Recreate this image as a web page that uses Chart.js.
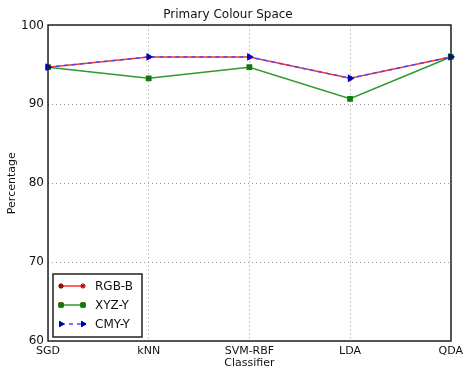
<!DOCTYPE html>
<html>
<head>
<meta charset="utf-8">
<script src="https://cdn.jsdelivr.net/npm/chart.js@4/dist/chart.umd.min.js"></script>
<style>
  html, body { margin: 0; padding: 0; background: #fff; }
  #wrap { width: 467px; height: 371px; }
</style>
</head>
<body>
<div id="wrap"><canvas id="chart" width="467" height="371"></canvas></div>
<script>
// данные графика
const classifiers = ["SGD", "kNN", "SVM-RBF", "LDA", "QDA"];
const rgbB = [94.7, 96.0, 96.0, 93.3, 96.0];
const xyzY = [94.7, 93.3, 94.7, 90.7, 96.0];
const cmyY = [94.7, 96.0, 96.0, 93.3, 96.0];
const yTicks = [60, 70, 80, 90, 100];

const FONT = "'DejaVu Sans', sans-serif";

// рамка осей и легенда внутри области графика
const framePlugin = {
  id: "frame",
  afterDraw(chart) {
    const ctx = chart.ctx;
    const a = chart.chartArea;
    ctx.save();
    ctx.strokeStyle = "#222";
    ctx.lineWidth = 1.5;
    ctx.strokeRect(Math.round(a.left), Math.round(a.top),
      Math.round(a.right - a.left), Math.round(a.bottom - a.top));

    // легенда
    const bx = 53, by = 274, bw = 89, bh = 63;
    ctx.fillStyle = "#fff";
    ctx.fillRect(bx, by, bw, bh);
    ctx.strokeRect(bx, by, bw, bh);
    chart.data.datasets.forEach((ds, i) => {
      const y = by + 12 + i * 19;
      ctx.save();
      ctx.strokeStyle = ds.borderColor;
      ctx.lineWidth = 1.5;
      ctx.setLineDash(ds.borderDash || []);
      ctx.beginPath();
      ctx.moveTo(61, y);
      ctx.lineTo(83, y);
      ctx.stroke();
      ctx.restore();
      [61, 83].forEach((x) => {
        Chart.helpers.drawPoint(ctx, {
          pointStyle: ds.pointStyle,
          radius: ds.pointRadius,
          rotation: ds.pointRotation || 0,
          borderWidth: 1
        }, x, y);
        ctx.fillStyle = ds.pointBackgroundColor;
        ctx.strokeStyle = ds.pointBorderColor;
        ctx.lineWidth = 1;
        ctx.fill();
        ctx.stroke();
      });
      ctx.fillStyle = "#111";
      ctx.font = "12px " + FONT;
      ctx.textBaseline = "middle";
      ctx.textAlign = "left";
      ctx.fillText(ds.label, 95, y + 1);
    });
    ctx.restore();
  }
};

const ctx = document.getElementById("chart").getContext("2d");
new Chart(ctx, {
  type: "line",
  data: {
    labels: classifiers,
    datasets: [
      {
        label: "RGB-B",
        data: rgbB,
        borderColor: "#ff3030",
        backgroundColor: "#ff3030",
        borderWidth: 1.5,
        pointStyle: "star",
        pointRadius: 2.5,
        pointBackgroundColor: "#c00000",
        pointBorderColor: "#c00000",
        order: 2,
        clip: false
      },
      {
        label: "XYZ-Y",
        data: xyzY,
        borderColor: "#2e9a2e",
        backgroundColor: "#1a7f1a",
        borderWidth: 1.5,
        pointStyle: "rect",
        pointRadius: 3,
        pointBackgroundColor: "#0f7a0f",
        pointBorderColor: "#0f7a0f",
        order: 1,
        clip: false
      },
      {
        label: "CMY-Y",
        data: cmyY,
        borderColor: "#4848ff",
        backgroundColor: "#0000cc",
        borderWidth: 1.5,
        borderDash: [4, 4],
        pointStyle: "triangle",
        pointRotation: 90,
        pointRadius: 3,
        pointBackgroundColor: "#0000c0",
        pointBorderColor: "#0000c0",
        order: 0,
        clip: false
      }
    ]
  },
  options: {
    responsive: false,
    animation: false,
    layout: { padding: { left: 0, right: 11, top: 0, bottom: 0 } },
    plugins: {
      legend: { display: false },
      tooltip: { enabled: false },
      title: {
        display: true,
        text: "Primary Colour Space",
        color: "#111",
        font: { family: FONT, size: 12, weight: "normal" },
        padding: { top: 8, bottom: 3 }
      }
    },
    scales: {
      x: {
        type: "category",
        offset: false,
        grid: {
          color: "#999",
          lineWidth: 1,
          drawTicks: false
        },
        border: { display: false, dash: [1, 3] },
        ticks: {
          color: "#111",
          font: { family: FONT, size: 11 },
          padding: 4,
          maxRotation: 0,
          autoSkip: false
        },
        title: {
          display: true,
          text: "Classifier",
          color: "#111",
          font: { family: FONT, size: 11 },
          padding: { top: 0, bottom: 1 }
        },
        afterFit(scale) { scale.height = 30; }
      },
      y: {
        min: 60,
        max: 100,
        afterBuildTicks(scale) {
          scale.ticks = yTicks.map((v) => ({ value: v }));
        },
        grid: {
          color: "#999",
          lineWidth: 1,
          drawTicks: false
        },
        border: { display: false, dash: [1, 3] },
        ticks: {
          color: "#111",
          font: { family: FONT, size: 12 },
          padding: 4
        },
        title: {
          display: true,
          text: "Percentage",
          color: "#111",
          font: { family: FONT, size: 11 },
          padding: { top: 6, bottom: 4 }
        },
        afterFit(scale) { scale.width = 48; }
      }
    }
  },
  plugins: [framePlugin]
});
</script>
</body>
</html>
